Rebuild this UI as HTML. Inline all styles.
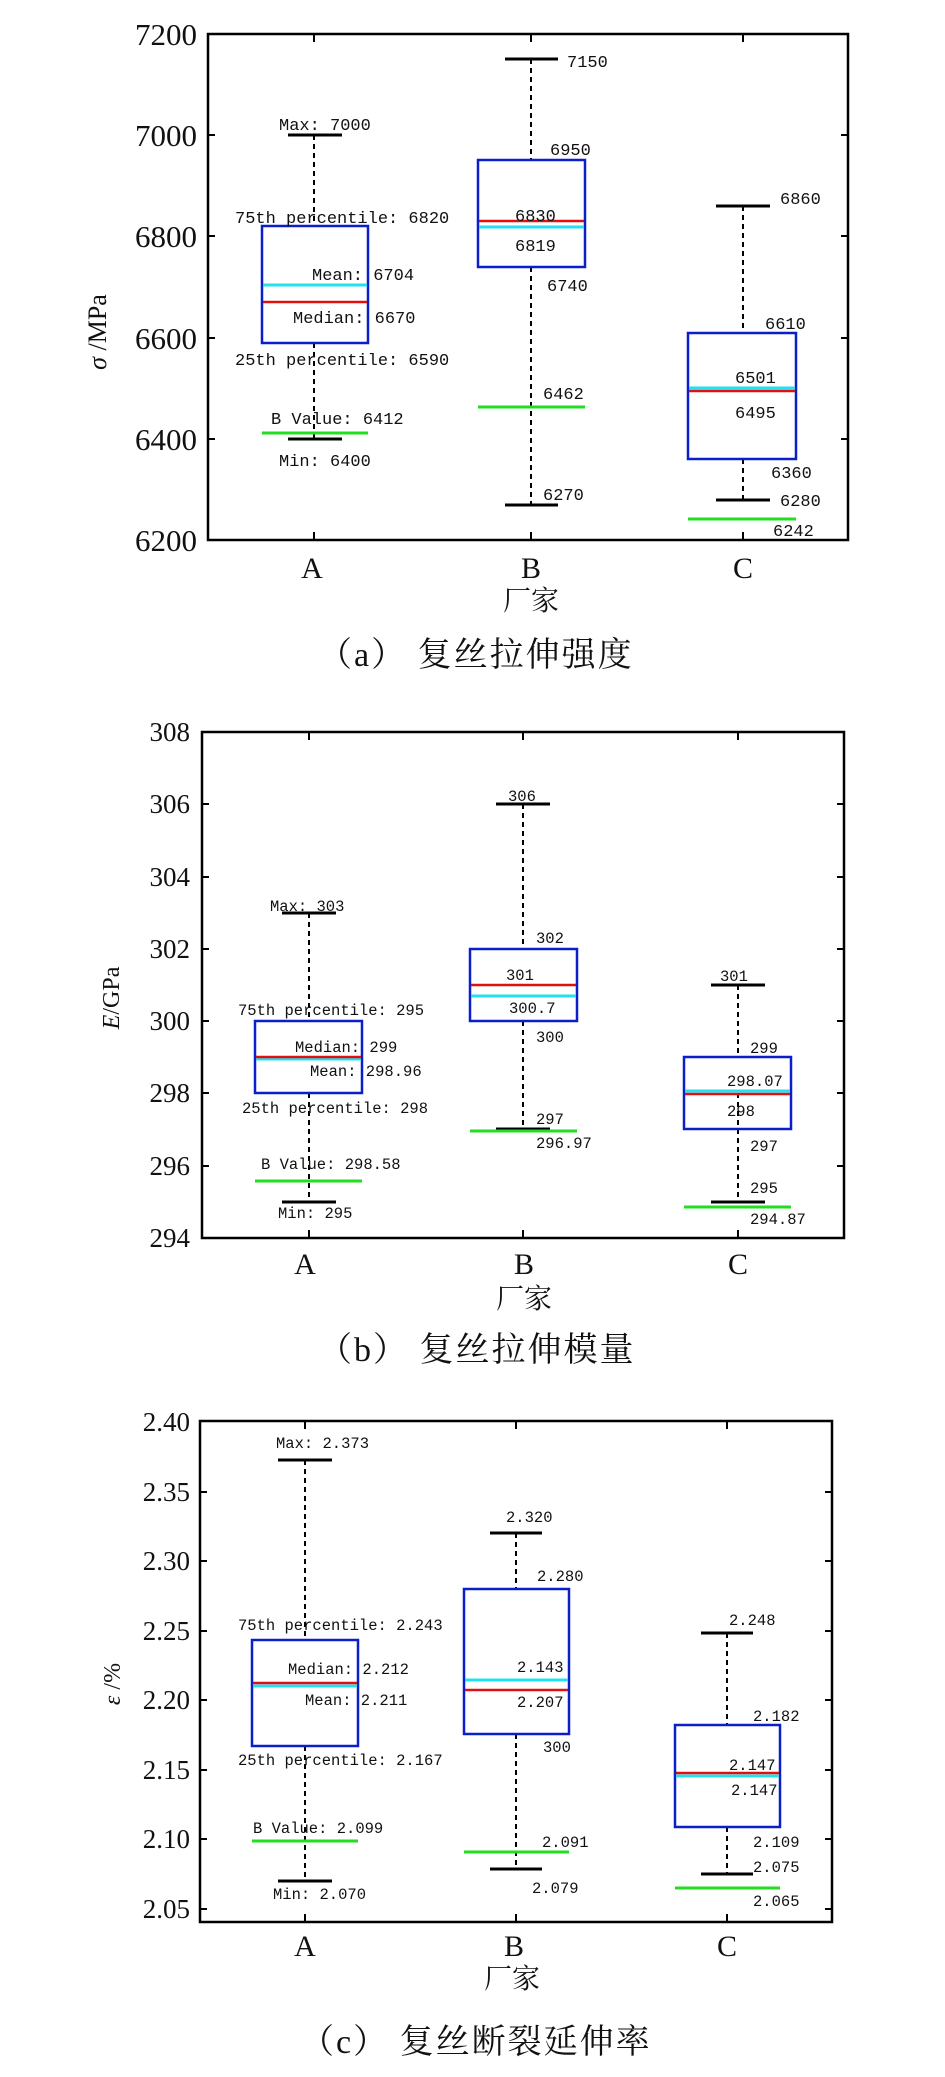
<!DOCTYPE html>
<html><head><meta charset="utf-8"><style>
html,body{margin:0;padding:0;background:#fff;}
svg{display:block;}
.m{font-family:"Liberation Mono",monospace;fill:#111;}
.s{font-family:"Liberation Serif",serif;fill:#111;}
.c{font-family:"Liberation Serif","Noto Serif CJK SC",serif;fill:#111;}
.f{fill:none;stroke:#000;stroke-width:2.5;}
.t{stroke:#000;stroke-width:2;}
.w{stroke:#000;stroke-width:2;stroke-dasharray:5,4;}
.cap{stroke:#000;stroke-width:3;}
.bx{fill:none;stroke:#0a1ecc;stroke-width:2.5;}
.r{stroke:#e01010;stroke-width:2.5;}
.cy{stroke:#22e0f0;stroke-width:3;}
.g{stroke:#22dd22;stroke-width:3;}
</style></head><body>
<svg width="945" height="2077" viewBox="0 0 945 2077" xmlns="http://www.w3.org/2000/svg">
<!-- ============ Chart a ============ -->
<rect class="f" x="208" y="34" width="640" height="506"/>
<g class="t">
<line x1="314" y1="34" x2="314" y2="42"/><line x1="531" y1="34" x2="531" y2="42"/><line x1="743" y1="34" x2="743" y2="42"/>
<line x1="314" y1="540" x2="314" y2="532"/><line x1="531" y1="540" x2="531" y2="532"/><line x1="743" y1="540" x2="743" y2="532"/>
<line x1="208" y1="135" x2="215" y2="135"/><line x1="208" y1="236" x2="215" y2="236"/><line x1="208" y1="338" x2="215" y2="338"/><line x1="208" y1="439" x2="215" y2="439"/>
<line x1="848" y1="135" x2="841" y2="135"/><line x1="848" y1="236" x2="841" y2="236"/><line x1="848" y1="338" x2="841" y2="338"/><line x1="848" y1="439" x2="841" y2="439"/>
</g>
<g class="s" font-size="31" text-anchor="end">
<text x="197" y="45">7200</text><text x="197" y="146">7000</text><text x="197" y="247">6800</text><text x="197" y="349">6600</text><text x="197" y="450">6400</text><text x="197" y="551">6200</text>
</g>
<text class="s" font-size="26" transform="translate(106,332) rotate(-90)" text-anchor="middle"><tspan font-style="italic">σ</tspan> /MPa</text>
<!-- A -->
<line class="w" x1="314" y1="135" x2="314" y2="226"/><line class="w" x1="314" y1="343" x2="314" y2="439"/>
<line class="cap" x1="288" y1="135" x2="342" y2="135"/><line class="cap" x1="288" y1="439" x2="342" y2="439"/>
<rect class="bx" x="262" y="226" width="106" height="117"/>
<line class="cy" x1="263" y1="285" x2="367" y2="285"/><line class="r" x1="263" y1="302" x2="367" y2="302"/>
<line class="g" x1="262" y1="433" x2="368" y2="433"/>
<!-- B -->
<line class="w" x1="531" y1="59" x2="531" y2="160"/><line class="w" x1="531" y1="267" x2="531" y2="505"/>
<line class="cap" x1="505" y1="59" x2="558" y2="59"/><line class="cap" x1="505" y1="505" x2="558" y2="505"/>
<rect class="bx" x="478" y="160" width="107" height="107"/>
<line class="r" x1="479" y1="221" x2="584" y2="221"/><line class="cy" x1="479" y1="227" x2="584" y2="227"/>
<line class="g" x1="478" y1="407" x2="585" y2="407"/>
<!-- C -->
<line class="w" x1="743" y1="206" x2="743" y2="333"/><line class="w" x1="743" y1="459" x2="743" y2="500"/>
<line class="cap" x1="716" y1="206" x2="770" y2="206"/><line class="cap" x1="716" y1="500" x2="770" y2="500"/>
<rect class="bx" x="688" y="333" width="108" height="126"/>
<line class="cy" x1="689" y1="388" x2="795" y2="388"/><line class="r" x1="689" y1="391" x2="795" y2="391"/>
<line class="g" x1="688" y1="519" x2="796" y2="519"/>
<g class="m" font-size="17">
<text x="279" y="130">Max: 7000</text>
<text x="235" y="223">75th percentile: 6820</text>
<text x="312" y="280">Mean: 6704</text>
<text x="293" y="323">Median: 6670</text>
<text x="235" y="365">25th percentile: 6590</text>
<text x="271" y="424">B Value: 6412</text>
<text x="279" y="466">Min: 6400</text>
<text x="567" y="67">7150</text><text x="550" y="155">6950</text><text x="515" y="221">6830</text><text x="515" y="251">6819</text>
<text x="547" y="291">6740</text><text x="543" y="399">6462</text><text x="543" y="500">6270</text>
<text x="780" y="204">6860</text><text x="765" y="329">6610</text><text x="735" y="383">6501</text><text x="735" y="418">6495</text>
<text x="771" y="478">6360</text><text x="780" y="506">6280</text><text x="773" y="536">6242</text>
</g>
<g class="s" font-size="30" text-anchor="middle"><text x="312" y="578">A</text><text x="531" y="578">B</text><text x="743" y="578">C</text></g>
<text class="c" font-size="28" x="531" y="610" text-anchor="middle">厂家</text>
<text class="c" font-size="34" x="318" y="666" letter-spacing="2">（a） 复丝拉伸强度</text>

<!-- ============ Chart b ============ -->
<rect class="f" x="202" y="732" width="642" height="506"/>
<g class="t">
<line x1="309" y1="732" x2="309" y2="740"/><line x1="523" y1="732" x2="523" y2="740"/><line x1="738" y1="732" x2="738" y2="740"/>
<line x1="309" y1="1238" x2="309" y2="1230"/><line x1="523" y1="1238" x2="523" y2="1230"/><line x1="738" y1="1238" x2="738" y2="1230"/>
<line x1="202" y1="804" x2="209" y2="804"/><line x1="202" y1="877" x2="209" y2="877"/><line x1="202" y1="949" x2="209" y2="949"/><line x1="202" y1="1021" x2="209" y2="1021"/><line x1="202" y1="1093" x2="209" y2="1093"/><line x1="202" y1="1166" x2="209" y2="1166"/>
<line x1="844" y1="804" x2="837" y2="804"/><line x1="844" y1="877" x2="837" y2="877"/><line x1="844" y1="949" x2="837" y2="949"/><line x1="844" y1="1021" x2="837" y2="1021"/><line x1="844" y1="1093" x2="837" y2="1093"/><line x1="844" y1="1166" x2="837" y2="1166"/>
</g>
<g class="s" font-size="27" text-anchor="end">
<text x="190" y="741">308</text><text x="190" y="813">306</text><text x="190" y="886">304</text><text x="190" y="958">302</text><text x="190" y="1030">300</text><text x="190" y="1102">298</text><text x="190" y="1175">296</text><text x="190" y="1247">294</text>
</g>
<text class="s" font-size="24" transform="translate(119,998) rotate(-90)" text-anchor="middle"><tspan font-style="italic">E</tspan>/GPa</text>
<!-- A -->
<line class="w" x1="309" y1="913" x2="309" y2="1021"/><line class="w" x1="309" y1="1093" x2="309" y2="1202"/>
<line class="cap" x1="282" y1="913" x2="336" y2="913"/><line class="cap" x1="282" y1="1202" x2="336" y2="1202"/>
<rect class="bx" x="255" y="1021" width="107" height="72"/>
<line class="cy" x1="256" y1="1059" x2="361" y2="1059"/><line class="r" x1="256" y1="1057" x2="361" y2="1057"/>
<line class="g" x1="255" y1="1181" x2="362" y2="1181"/>
<!-- B -->
<line class="w" x1="523" y1="804" x2="523" y2="949"/><line class="w" x1="523" y1="1021" x2="523" y2="1130"/>
<line class="cap" x1="496" y1="804" x2="550" y2="804"/><line class="cap" x1="496" y1="1129" x2="550" y2="1129"/>
<rect class="bx" x="470" y="949" width="107" height="72"/>
<line class="r" x1="471" y1="985" x2="576" y2="985"/><line class="cy" x1="471" y1="996" x2="576" y2="996"/>
<line class="g" x1="470" y1="1131" x2="577" y2="1131"/>
<!-- C -->
<line class="w" x1="738" y1="985" x2="738" y2="1057"/><line class="w" x1="738" y1="1093" x2="738" y2="1202"/>
<line class="cap" x1="711" y1="985" x2="765" y2="985"/><line class="cap" x1="711" y1="1202" x2="765" y2="1202"/>
<rect class="bx" x="684" y="1057" width="107" height="72"/>
<line class="cy" x1="685" y1="1091" x2="790" y2="1091"/><line class="r" x1="685" y1="1094" x2="790" y2="1094"/>
<line class="g" x1="684" y1="1207" x2="791" y2="1207"/>
<g class="m" font-size="15.5">
<text x="270" y="911">Max: 303</text>
<text x="238" y="1015">75th percentile: 295</text>
<text x="295" y="1052">Median: 299</text>
<text x="310" y="1076">Mean: 298.96</text>
<text x="242" y="1113">25th percentile: 298</text>
<text x="261" y="1169">B Value: 298.58</text>
<text x="278" y="1218">Min: 295</text>
<text x="508" y="801">306</text><text x="536" y="943">302</text><text x="506" y="980">301</text><text x="509" y="1013">300.7</text>
<text x="536" y="1042">300</text><text x="536" y="1124">297</text><text x="536" y="1148">296.97</text>
<text x="720" y="981">301</text><text x="750" y="1053">299</text><text x="727" y="1086">298.07</text><text x="727" y="1116">298</text>
<text x="750" y="1151">297</text><text x="750" y="1193">295</text><text x="750" y="1224">294.87</text>
</g>
<g class="s" font-size="30" text-anchor="middle"><text x="305" y="1274">A</text><text x="524" y="1274">B</text><text x="738" y="1274">C</text></g>
<text class="c" font-size="28" x="524" y="1308" text-anchor="middle">厂家</text>
<text class="c" font-size="34" x="318" y="1361" letter-spacing="2">（b） 复丝拉伸模量</text>

<!-- ============ Chart c ============ -->
<rect class="f" x="200" y="1421" width="632" height="501"/>
<g class="t">
<line x1="305" y1="1421" x2="305" y2="1429"/><line x1="516" y1="1421" x2="516" y2="1429"/><line x1="727" y1="1421" x2="727" y2="1429"/>
<line x1="305" y1="1922" x2="305" y2="1914"/><line x1="516" y1="1922" x2="516" y2="1914"/><line x1="727" y1="1922" x2="727" y2="1914"/>
<line x1="200" y1="1492" x2="207" y2="1492"/><line x1="200" y1="1561" x2="207" y2="1561"/><line x1="200" y1="1631" x2="207" y2="1631"/><line x1="200" y1="1700" x2="207" y2="1700"/><line x1="200" y1="1770" x2="207" y2="1770"/><line x1="200" y1="1839" x2="207" y2="1839"/><line x1="200" y1="1909" x2="207" y2="1909"/>
<line x1="832" y1="1492" x2="825" y2="1492"/><line x1="832" y1="1561" x2="825" y2="1561"/><line x1="832" y1="1631" x2="825" y2="1631"/><line x1="832" y1="1700" x2="825" y2="1700"/><line x1="832" y1="1770" x2="825" y2="1770"/><line x1="832" y1="1839" x2="825" y2="1839"/><line x1="832" y1="1909" x2="825" y2="1909"/>
</g>
<g class="s" font-size="27" text-anchor="end">
<text x="190" y="1431">2.40</text><text x="190" y="1501">2.35</text><text x="190" y="1570">2.30</text><text x="190" y="1640">2.25</text><text x="190" y="1709">2.20</text><text x="190" y="1779">2.15</text><text x="190" y="1848">2.10</text><text x="190" y="1918">2.05</text>
</g>
<text class="s" font-size="24" transform="translate(120,1684) rotate(-90)" text-anchor="middle"><tspan font-style="italic">ε</tspan> /%</text>
<!-- A -->
<line class="w" x1="305" y1="1460" x2="305" y2="1640"/><line class="w" x1="305" y1="1746" x2="305" y2="1881"/>
<line class="cap" x1="278" y1="1460" x2="332" y2="1460"/><line class="cap" x1="278" y1="1881" x2="332" y2="1881"/>
<rect class="bx" x="252" y="1640" width="106" height="106"/>
<line class="r" x1="253" y1="1683" x2="357" y2="1683"/><line class="cy" x1="253" y1="1686" x2="357" y2="1686"/>
<line class="g" x1="252" y1="1841" x2="358" y2="1841"/>
<!-- B -->
<line class="w" x1="516" y1="1533" x2="516" y2="1589"/><line class="w" x1="516" y1="1734" x2="516" y2="1869"/>
<line class="cap" x1="490" y1="1533" x2="542" y2="1533"/><line class="cap" x1="490" y1="1869" x2="542" y2="1869"/>
<rect class="bx" x="464" y="1589" width="105" height="145"/>
<line class="cy" x1="465" y1="1680" x2="568" y2="1680"/><line class="r" x1="465" y1="1690" x2="568" y2="1690"/>
<line class="g" x1="464" y1="1852" x2="569" y2="1852"/>
<!-- C -->
<line class="w" x1="727" y1="1633" x2="727" y2="1725"/><line class="w" x1="727" y1="1827" x2="727" y2="1874"/>
<line class="cap" x1="701" y1="1633" x2="753" y2="1633"/><line class="cap" x1="701" y1="1874" x2="753" y2="1874"/>
<rect class="bx" x="675" y="1725" width="105" height="102"/>
<line class="r" x1="676" y1="1773" x2="779" y2="1773"/><line class="cy" x1="676" y1="1776" x2="779" y2="1776"/>
<line class="g" x1="675" y1="1888" x2="780" y2="1888"/>
<g class="m" font-size="15.5">
<text x="276" y="1448">Max: 2.373</text>
<text x="238" y="1630">75th percentile: 2.243</text>
<text x="288" y="1674">Median: 2.212</text>
<text x="305" y="1705">Mean: 2.211</text>
<text x="238" y="1765">25th percentile: 2.167</text>
<text x="253" y="1833">B Value: 2.099</text>
<text x="273" y="1899">Min: 2.070</text>
<text x="506" y="1522">2.320</text><text x="537" y="1581">2.280</text><text x="517" y="1672">2.143</text><text x="517" y="1707">2.207</text>
<text x="543" y="1752">300</text><text x="542" y="1847">2.091</text><text x="532" y="1893">2.079</text>
<text x="729" y="1625">2.248</text><text x="753" y="1721">2.182</text><text x="729" y="1770">2.147</text><text x="731" y="1795">2.147</text>
<text x="753" y="1847">2.109</text><text x="753" y="1872">2.075</text><text x="753" y="1906">2.065</text>
</g>
<g class="s" font-size="30" text-anchor="middle"><text x="305" y="1956">A</text><text x="514" y="1956">B</text><text x="727" y="1956">C</text></g>
<text class="c" font-size="28" x="512" y="1988" text-anchor="middle">厂家</text>
<text class="c" font-size="34" x="300" y="2053" letter-spacing="2">（c） 复丝断裂延伸率</text>
</svg>
</body></html>
